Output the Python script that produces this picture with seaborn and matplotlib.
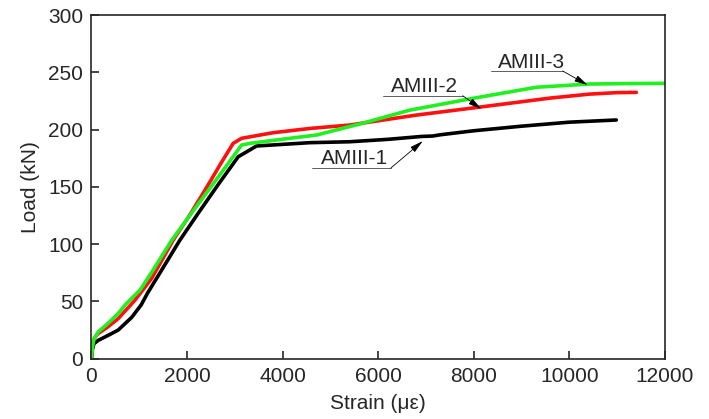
import pandas as pd
import seaborn as sns
import matplotlib.pyplot as plt

# Load-strain curves
strain_1 = [0, 20, 50, 142, 351, 560, 840, 1041, 1170, 1500, 1850, 2250, 2651,
            3070, 3454, 4568, 5404, 6200, 6900, 7140, 7300, 8000, 9000, 10000, 10980]
load_1 = [0, 8, 13, 16, 20.4, 25, 36, 47, 57, 79.5, 103.5, 128, 152,
          176.3, 185.7, 188.6, 189.4, 191.5, 194, 194.4, 195.5, 199, 203, 206.5, 208.4]

strain_2 = [0, 20, 60, 142, 351, 560, 909, 1258, 1710, 2050, 2373, 2700, 2965,
            3140, 3802, 4568, 5404, 6800, 8190, 9590, 10420, 11000, 11400]
load_2 = [0, 12, 18, 22, 28, 35, 51, 70, 103.5, 125, 147, 170, 188,
          192.4, 197.3, 201, 204, 212.7, 220, 227.5, 231, 232.3, 232.5]

strain_3 = [0, 20, 50, 142, 351, 560, 728, 1014, 1300, 1680, 2100, 2513, 2800,
            3140, 3314, 4150, 4710, 5614, 6660, 7980, 9310, 10420, 11200, 12000]
load_3 = [0, 10, 17, 23.4, 31, 39.5, 48, 59.8, 78, 103.5, 127.4, 150.8, 167,
          186.5, 188, 192.4, 195.3, 204.9, 217, 227.3, 237, 239.8, 240.2, 240.4]

names = ['AMIII-1', 'AMIII-2', 'AMIII-3']
colors = ['black', '#ff1010', '#20f020']

# annotation: text centre, underline x-range and y, arrow tip
label_pos = [(5509, 175), (6973, 238), (9210, 259)]
underline = [(4610, 6262, 166.4), (6095, 7767, 229.6), (8352, 9857, 251.2)]
arrow_tip = [(6931, 190), (8158, 218), (10380, 239)]

df = pd.concat([
    pd.DataFrame({'Strain': strain_1, 'Load': load_1, 'Specimen': names[0]}),
    pd.DataFrame({'Strain': strain_2, 'Load': load_2, 'Specimen': names[1]}),
    pd.DataFrame({'Strain': strain_3, 'Load': load_3, 'Specimen': names[2]}),
])

sns.set_style('ticks')
plt.rcParams['font.family'] = ['Liberation Sans', 'DejaVu Sans']

fig = plt.figure(figsize=(7.09, 4.19), dpi=100)
ax = fig.add_axes([0.129, 0.144, 0.809, 0.82])

sns.lineplot(data=df, x='Strain', y='Load', hue='Specimen', palette=colors,
             sort=False, estimator=None, linewidth=2.6, legend=False, ax=ax)

for name, (tx, ty), (ux0, ux1, uy), (ax_, ay) in zip(names, label_pos, underline, arrow_tip):
    ax.text(tx, ty, name, ha='center', va='center', fontsize=15)
    ax.plot([ux0, ux1], [uy, uy], color='#444444', linewidth=0.6)
    ax.annotate('', xy=(ax_, ay), xytext=(ux1, uy),
                arrowprops=dict(arrowstyle='-|>,head_length=0.8,head_width=0.2',
                                color='black', linewidth=0.6, shrinkA=0, shrinkB=0))

ax.set_xlim(0, 12000)
ax.set_ylim(0, 300)
ax.set_xticks(range(0, 12001, 2000))
ax.set_yticks(range(0, 301, 50))
ax.tick_params(direction='in', length=6, width=1.2, labelsize=15, pad=6,
               top=False, right=False)
ax.set_xlabel('Strain (\u03bc\u03b5)', fontsize=15, labelpad=6)
ax.set_ylabel('Load (kN)', fontsize=15, labelpad=6)
for s in ax.spines.values():
    s.set_linewidth(1.2)
    s.set_visible(True)

fig.savefig('out.png', dpi=100)
